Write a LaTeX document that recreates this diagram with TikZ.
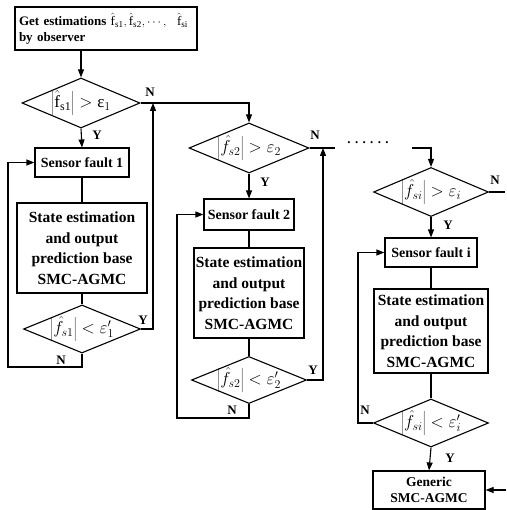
\documentclass[tikz,border=0pt]{standalone}
\usepackage{fontspec}
\setmainfont{Liberation Serif}
\usetikzlibrary{shapes.geometric,arrows.meta}
\begin{document}
\begin{tikzpicture}[x=1pt,y=-1pt,line width=1.1pt,
  box/.style={draw,rectangle,inner sep=1pt,align=center,font=\bfseries\fontsize{15.5}{20.5}\selectfont},
  sbox/.style={draw,rectangle,inner sep=1pt,align=center,font=\bfseries\fontsize{14}{16}\selectfont},
  dec/.style={draw,diamond,shape aspect=2.4,inner sep=-8pt,font=\fontsize{17}{19}\selectfont},
  lab/.style={inner sep=0pt,font=\bfseries\fontsize{13}{13}\selectfont},
  arr/.style={-{Triangle[length=8pt,width=6pt]}}]
\useasboundingbox (0,0) rectangle (506,510);

% top box
\node[draw,rectangle,minimum width=182pt,minimum height=43pt,inner sep=3pt,align=left,
  text width=174pt,font=\bfseries\fontsize{13}{16}\selectfont] (top) at (106,28.5)
  {Get estimations {\mdseries$\hat{\mathrm{f}}_{\mathrm{s1}},\hat{\mathrm{f}}_{\mathrm{s2}},\cdots,\ \ \hat{\mathrm{f}}_{\mathrm{si}}$}\\by observer};

% column 1
\node[dec,minimum width=118pt,minimum height=50pt] (d1) at (81,103)
  {$\left|\hat{\mathrm{f}}_{\mathrm{s1}}\right|>\mbox{ε}_{1}$};
\node[sbox,minimum width=94pt,minimum height=29pt] (s1) at (82,162.5) {Sensor fault 1};
\node[box,minimum width=130pt,minimum height=90pt] (b1) at (82,248)
  {State estimation\\and output\\prediction base\\SMC-AGMC};
\node[dec,minimum width=117pt,minimum height=48pt] (e1) at (82,329)
  {$\left|\hat{f}_{s1}\right|<\varepsilon_{1}'$};

% column 2
\node[dec,minimum width=120pt,minimum height=50pt] (d2) at (249,148)
  {$\left|\hat{f}_{s2}\right|>\varepsilon_{2}$};
\node[sbox,minimum width=90pt,minimum height=31pt] (s2) at (249,214.5) {Sensor fault 2};
\node[box,minimum width=110pt,minimum height=90pt] (b2) at (249,293)
  {State estimation\\and output\\prediction base\\SMC-AGMC};
\node[dec,minimum width=115pt,minimum height=47pt] (e2) at (249,380)
  {$\left|\hat{f}_{s2}\right|<\varepsilon_{2}'$};

% column 3
\node[dec,minimum width=115pt,minimum height=49pt] (d3) at (431,192)
  {$\left|\hat{f}_{si}\right|>\varepsilon_{i}$};
\node[sbox,minimum width=92pt,minimum height=29pt] (s3) at (431,252.5) {Sensor fault i};
\node[box,minimum width=114pt,minimum height=84pt] (b3) at (431,331)
  {State estimation\\and output\\prediction base\\SMC-AGMC};
\node[dec,minimum width=115pt,minimum height=48pt] (e3) at (431,423)
  {$\left|\hat{f}_{si}\right|<\varepsilon_{i}'$};
\node[sbox,minimum width=112pt,minimum height=38pt,font=\bfseries\fontsize{13.5}{16}\selectfont] (g) at (429,490)
  {Generic\\SMC-AGMC};

% dots
\node[inner sep=0pt,font=\bfseries\fontsize{13}{13}\selectfont] (dots) at (368,143) {.\,\,.\,\,.\,\,.\,\,.\,\,.};

% coordinates
\coordinate (c1) at (153,103);
\coordinate (l1) at (8,367);
\coordinate (c2) at (323,148);
\coordinate (l2) at (177,418);
\coordinate (m1) at (335,148);
\coordinate (m2) at (412,148);
\coordinate (r3) at (505,192);
\coordinate (l3) at (358,423);
\coordinate (gin) at (506,490);

% connectors column 1
\draw[arr] (d1.north |- top.south) -- (d1.north);
\draw[arr] (d1.south) -- (s1.north);
\draw (s1.south) -- (b1.north);
\draw (b1.south) -- (e1.north);
\draw[arr] (e1.east) -| (c1);
\draw[arr] (e1.south) |- (l1) |- (s1.west);
\draw[arr] (d1.east) -| (d2.north);

% column 2
\draw[arr] (d2.south) -- (s2.north);
\draw (s2.south) -- (b2.north);
\draw (b2.south) -- (e2.north);
\draw[arr] (e2.east) -| (c2);
\draw[arr] (e2.south) |- (l2) |- (s2.west);
\draw (d2.east) -- (m1);
\draw[arr] (m2) -| (d3.north);

% column 3
\draw (d3.east) -- (r3);
\draw[arr] (d3.south) -- (s3.north);
\draw (s3.south) -- (b3.north);
\draw (b3.south) -- (e3.north);
\draw[arr] (e3.west) -- (l3) |- (s3.west);
\draw[arr] (e3.south) -- (g.north);
\draw[arr] (gin) -- (g.east);

% labels
\node[lab] (n1) at (150,92) {N};
\node[lab] (y1) at (97,135) {Y};
\node[lab] (y1b) at (143,320) {Y};
\node[lab] (n1b) at (61,360) {N};
\node[lab] (n2) at (315,135) {N};
\node[lab] (y2) at (265,182) {Y};
\node[lab] (y2b) at (313,370) {Y};
\node[lab] (n2b) at (232,410) {N};
\node[lab] (n3) at (495,180) {N};
\node[lab] (y3) at (448,225) {Y};
\node[lab] (n3b) at (365,410) {N};
\node[lab] (y3b) at (450,458) {Y};
\end{tikzpicture}
\end{document}
